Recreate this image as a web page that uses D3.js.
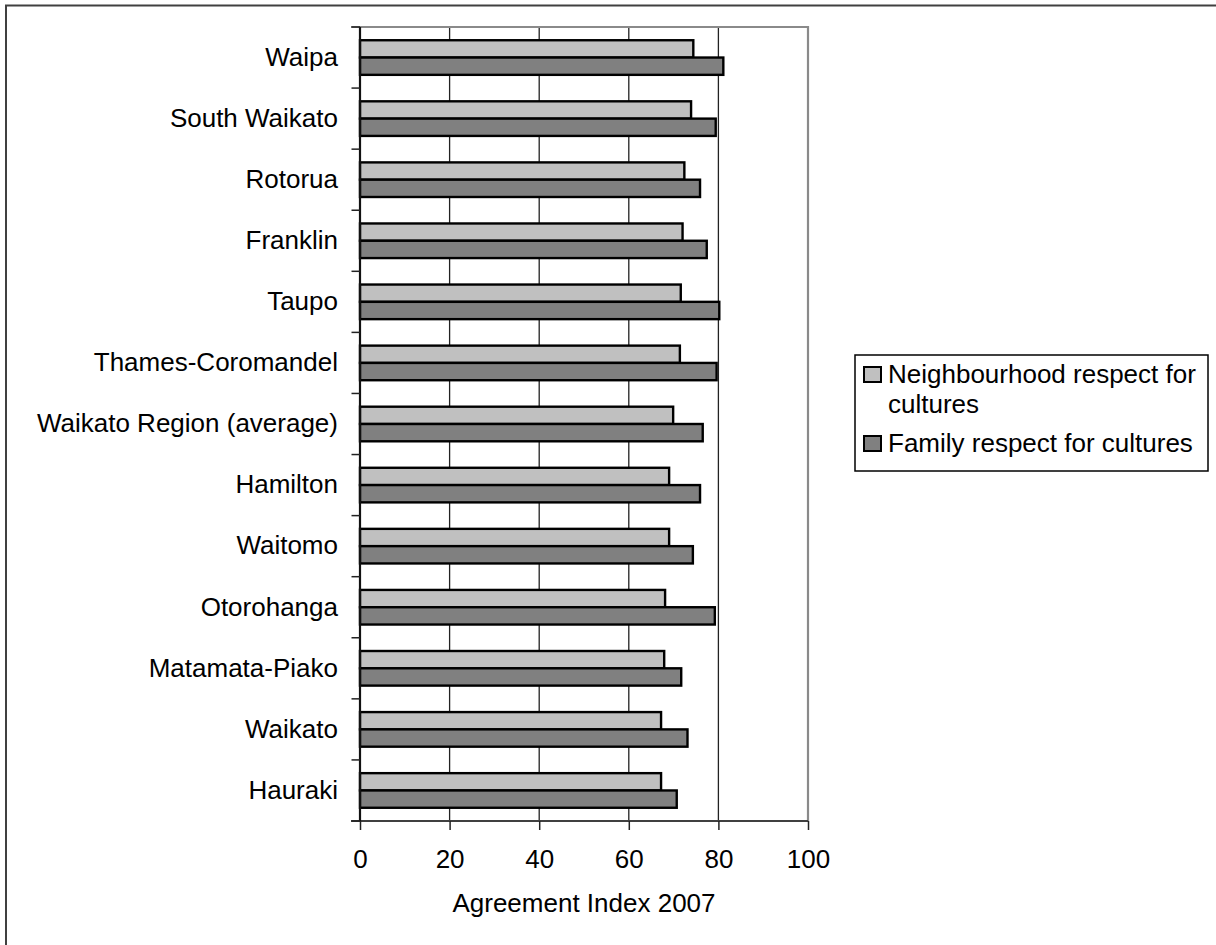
<!DOCTYPE html>
<html>
<head>
<meta charset="utf-8">
<script src="https://cdn.jsdelivr.net/npm/d3@7"></script>
<style>
  html, body { margin: 0; padding: 0; background: #fff; }
  svg { display: block; font-family: "Liberation Sans", Arial, sans-serif; }
</style>
</head>
<body>
<svg id="chart" width="1216" height="945"></svg>
<script>
const categories = ["Waipa", "South Waikato", "Rotorua", "Franklin", "Taupo", "Thames-Coromandel",
  "Waikato Region (average)", "Hamilton", "Waitomo", "Otorohanga", "Matamata-Piako", "Waikato", "Hauraki"];
const neighbourhood = [74.4, 73.9, 72.4, 72.0, 71.6, 71.4, 69.9, 69.0, 69.0, 68.1, 67.9, 67.2, 67.2];
const family = [81.1, 79.4, 75.9, 77.4, 80.2, 79.6, 76.5, 75.9, 74.3, 79.2, 71.7, 73.1, 70.7];
const seriesNames = ["Neighbourhood respect for cultures", "Family respect for cultures"];
const seriesColors = ["#c0c0c0", "#808080"];
const xTicks = [0, 20, 40, 60, 80, 100];
const xTitle = "Agreement Index 2007";

(function () {
const svg = d3.select("#chart");
const fontSize = 26;

// outer chart border (cropped at right/bottom)
svg.append("rect").attr("x", 6).attr("y", 5.5).attr("width", 1240).attr("height", 960)
  .attr("fill", "#fff").attr("stroke", "#404040").attr("stroke-width", 2);

const pL = 360, pR = 808, pT = 27, pB = 821;
const x = d3.scaleLinear().domain([0, 100]).range([pL, pR]);
const y = d3.scaleBand().domain(categories).range([pT, pB]).padding(0);
const ySub = d3.scaleBand().domain(seriesNames).range([0, y.bandwidth()]).paddingInner(0).paddingOuter(0.765);

// gridlines
svg.append("g").selectAll("line").data(xTicks.filter(t => t > 0 && t < 100)).join("line")
  .attr("x1", d => x(d)).attr("x2", d => x(d)).attr("y1", pT).attr("y2", pB)
  .attr("stroke", "#222").attr("stroke-width", 1.3);

// plot border top & right (gray)
svg.append("path").attr("d", `M${pL - 9},${pT}H${pR}V${pB}`)
  .attr("fill", "none").attr("stroke", "#8a8a8a").attr("stroke-width", 2.2);

// bars
const rows = categories.map((c, i) => ({ cat: c, vals: [neighbourhood[i], family[i]] }));
const g = svg.append("g").selectAll("g").data(rows).join("g")
  .attr("transform", d => `translate(0,${y(d.cat)})`);
g.selectAll("rect").data(d => d.vals.map((v, j) => ({ v, s: seriesNames[j], j }))).join("rect")
  .attr("x", x(0)).attr("y", d => ySub(d.s)).attr("width", d => x(d.v) - x(0)).attr("height", ySub.bandwidth())
  .attr("fill", d => seriesColors[d.j]).attr("stroke", "#000").attr("stroke-width", 2.4);

// x axis
const xAxis = svg.append("g").attr("transform", `translate(0,${pB})`)
  .call(d3.axisBottom(x).tickValues(xTicks).tickSize(9).tickSizeOuter(0).tickPadding(20));
xAxis.select(".domain").attr("stroke", "#404040").attr("stroke-width", 2.2).attr("d", `M${pL - 9},0H${pR}`);
xAxis.selectAll(".tick line").attr("stroke", "#222").attr("stroke-width", 1.5);
xAxis.selectAll(".tick text").attr("font-size", fontSize).attr("font-family", "Liberation Sans, Arial, sans-serif").attr("fill", "#000");

// y axis
const yAxis = svg.append("g").attr("transform", `translate(${pL},0)`)
  .call(d3.axisLeft(y).tickSize(0).tickPadding(22));
yAxis.select(".domain").attr("stroke", "#111").attr("stroke-width", 2.2).attr("d", `M0,${pT}V${pB}`);
yAxis.selectAll(".tick text").attr("font-size", fontSize).attr("font-family", "Liberation Sans, Arial, sans-serif").attr("fill", "#000");
// category boundary ticks
const bounds = categories.map(c => y(c)).concat([pB]);
svg.append("g").selectAll("line").data(bounds).join("line")
  .attr("x1", pL - 8.5).attr("x2", pL).attr("y1", d => d).attr("y2", d => d)
  .attr("stroke", "#222").attr("stroke-width", 1.5);

// x title
svg.append("text").attr("x", (pL + pR) / 2).attr("y", 912).attr("text-anchor", "middle")
  .attr("font-size", fontSize).attr("fill", "#000").text(xTitle);

// legend
const lg = svg.append("g");
lg.append("rect").attr("x", 855).attr("y", 355).attr("width", 353).attr("height", 116)
  .attr("fill", "#fff").attr("stroke", "#000").attr("stroke-width", 1.5);
const legendLines = [["Neighbourhood respect for", "cultures"], ["Family respect for cultures"]];
const lineH = 30;
let baseY = 383;
legendLines.forEach((lines, j) => {
  lg.append("rect").attr("x", 864).attr("y", baseY - 16).attr("width", 17).attr("height", 15)
    .attr("fill", seriesColors[j]).attr("stroke", "#000").attr("stroke-width", 2);
  const t = lg.append("text").attr("x", 888).attr("y", baseY).attr("font-size", fontSize).attr("fill", "#000");
  lines.forEach((ln, k) => t.append("tspan").attr("x", 888).attr("dy", k === 0 ? 0 : lineH).text(ln));
  baseY += lines.length * lineH + 9;
});
})();
</script>
</body>
</html>
